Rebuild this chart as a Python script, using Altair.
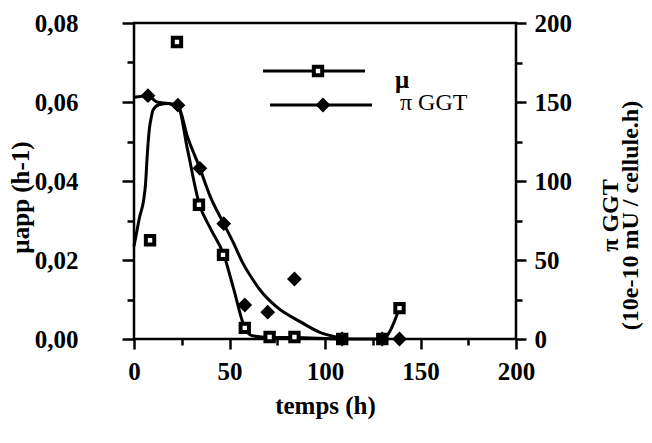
import altair as alt
import pandas as pd

FONT = "Liberation Serif"

# --- data ---
# μ measurements (hollow squares, left axis)
MU_T = [8.4, 22.5, 34, 46.6, 58, 71, 84, 109, 130, 139]
MU_V = [0.025, 0.0752, 0.034, 0.0213, 0.0028, 0.0005, 0.0005, 0.0, 0.0, 0.0078]

# π GGT measurements (diamonds, right axis)
GGT_T = [7.3, 23, 34.5, 47, 58, 70, 84, 109, 130, 139]
GGT_V = [154, 148, 108, 73, 21.5, 17, 38, 0, 0, 0]

# μ curve (thin line)
MU_CURVE_T = [0, 1, 3, 5, 6, 7, 8, 9, 10, 13, 18, 23, 28, 34, 40, 47, 52, 58, 62, 71, 84, 109, 130, 139]
MU_CURVE_V = [0.0235, 0.026, 0.031, 0.035, 0.039, 0.047, 0.053, 0.056, 0.058, 0.0593, 0.0596, 0.059,
              0.048, 0.0345, 0.028, 0.0213, 0.013, 0.0028, 0.0008, 0.0004, 0.0004, 0.0, 0.0, 0.0078]

# π GGT curve
GGT_CURVE_T = [0, 7.3, 12, 18, 23, 28, 34.5, 40, 47, 52, 57, 62, 66, 75, 87, 97, 106, 110]
GGT_CURVE_V = [153, 154, 150, 149, 147.5, 128, 108, 90, 73, 61, 48, 38, 31, 20, 11, 4.4, 1.2, 0]

X_MAJOR = [0, 50, 100, 150, 200]
X_MINOR = [25, 75, 125, 175]
YL_MAJOR = [0, 0.02, 0.04, 0.06, 0.08]
YL_MINOR = [0.01, 0.03, 0.05, 0.07]
YR_MAJOR = [0, 50, 100, 150, 200]
YR_MINOR = [25, 75, 125, 175]

LEGEND_LABELS = ["μ", "π GGT"]
X_TITLE = "temps (h)"
YL_TITLE = "µapp (h-1)"
YR_TITLE = ["π GGT", "(10e-10 mU / cellule.h)"]

mu_pts = pd.DataFrame({"t": MU_T, "v": MU_V})
ggt_pts = pd.DataFrame({"t": GGT_T, "v": GGT_V})
mu_curve = pd.DataFrame({"t": MU_CURVE_T, "v": MU_CURVE_V})
ggt_curve = pd.DataFrame({"t": GGT_CURVE_T, "v": GGT_CURVE_V})
one = pd.DataFrame({"k": [0]})

xs = alt.Scale(domain=[0, 200], nice=False)
yls = alt.Scale(domain=[0, 0.08], nice=False)
yrs = alt.Scale(domain=[0, 200], nice=False)

x_major_axis = alt.Axis(orient="bottom", values=X_MAJOR, tickSize=10, labelPadding=10,
                        labelFlush=False, labelOverlap=False, title=X_TITLE,
                        titleY=66, titleBaseline="middle", titleAlign="center")
yl_major_axis = alt.Axis(orient="left", values=YL_MAJOR, tickSize=12, labelPadding=44,
                         labelExpr="replace(format(datum.value, '.2f'), '.', ',')",
                         labelOverlap=False, title=YL_TITLE, titleAngle=270,
                         titleX=-114, titleY=174, titleAlign="center", titleBaseline="middle")
yr_major_axis = alt.Axis(orient="right", values=YR_MAJOR, tickSize=10, labelPadding=8,
                         labelOverlap=False, title=YR_TITLE, titleAngle=270,
                         titleX=94, titleY=192, titleAlign="center", titleBaseline="middle",
                         titleLineHeight=20, titleFontSize=24)

mu_line = alt.Chart(mu_curve).mark_line(color="black", strokeWidth=3, interpolate="monotone").encode(
    x=alt.X("t:Q", scale=xs, axis=x_major_axis),
    y=alt.Y("v:Q", scale=yls, axis=yl_major_axis),
)
ggt_line = alt.Chart(ggt_curve).mark_line(color="black", strokeWidth=3, interpolate="monotone").encode(
    x=alt.X("t:Q", scale=xs, axis=None),
    y=alt.Y("v:Q", scale=yrs, axis=yr_major_axis),
)
mu_sq = alt.Chart(mu_pts).mark_point(shape="square", size=70, fill="white", stroke="black",
                                     strokeWidth=4, opacity=1, fillOpacity=1).encode(
    x=alt.X("t:Q", scale=xs, axis=None),
    y=alt.Y("v:Q", scale=yls, axis=None),
)
ggt_dm = alt.Chart(ggt_pts).mark_point(shape="diamond", size=220, filled=True, color="black",
                                       opacity=1).encode(
    x=alt.X("t:Q", scale=xs, axis=None),
    y=alt.Y("v:Q", scale=yrs, axis=None),
)
# minor ticks
minor_l = alt.Chart(mu_pts).mark_point(opacity=0).encode(
    x=alt.X("t:Q", scale=xs, axis=alt.Axis(orient="bottom", values=X_MINOR, tickSize=6,
                                           labels=False, title=None)),
    y=alt.Y("v:Q", scale=yls, axis=alt.Axis(orient="left", values=YL_MINOR, tickSize=7,
                                            labels=False, title=None)),
)
minor_r = alt.Chart(ggt_pts).mark_point(opacity=0).encode(
    x=alt.X("t:Q", scale=xs, axis=None),
    y=alt.Y("v:Q", scale=yrs, axis=alt.Axis(orient="right", values=YR_MINOR, tickSize=6,
                                            labels=False, title=None)),
)

# hand-drawn legend (layout positions in pixels)
leg1_line = alt.Chart(one).mark_rule(color="black", strokeWidth=3).encode(
    x=alt.value(129), x2=alt.value(231), y=alt.value(48))
leg1_sym = alt.Chart(one).mark_point(shape="square", size=70, fill="white", stroke="black",
                                     strokeWidth=4, opacity=1, fillOpacity=1).encode(
    x=alt.value(184), y=alt.value(48))
leg1_txt = alt.Chart(one).mark_text(align="left", baseline="alphabetic", font=FONT, fontSize=25,
                                    fontWeight="bold", color="black").encode(
    x=alt.value(261), y=alt.value(65), text=alt.value(LEGEND_LABELS[0]))
leg2_line = alt.Chart(one).mark_rule(color="black", strokeWidth=3).encode(
    x=alt.value(136), x2=alt.value(238), y=alt.value(82))
leg2_sym = alt.Chart(one).mark_point(shape="diamond", size=220, filled=True, color="black",
                                     opacity=1).encode(
    x=alt.value(189), y=alt.value(82))
leg2_txt = alt.Chart(one).mark_text(align="left", baseline="alphabetic", font=FONT, fontSize=24,
                                    color="black").encode(
    x=alt.value(266), y=alt.value(87), text=alt.value(LEGEND_LABELS[1]))

chart = alt.layer(
    mu_line, ggt_line, mu_sq, ggt_dm, minor_l, minor_r,
    leg1_line, leg1_sym, leg1_txt, leg2_line, leg2_sym, leg2_txt,
).resolve_scale(y="independent").resolve_axis(x="independent", y="independent").properties(
    width=382, height=316,
    autosize=alt.AutoSizeParams(type="none"),
    padding={"left": 126, "top": 15, "right": 128, "bottom": 90},
    background="white",
).configure_axis(
    domain=False, grid=False, tickColor="black", tickWidth=2.5,
    labelColor="black", labelFont=FONT, labelFontSize=25, labelFontWeight="bold",
    titleColor="black", titleFont=FONT, titleFontSize=25, titleFontWeight="bold",
).configure_view(stroke="black", strokeWidth=2.5)

chart.save("out.html", embed_options={"renderer": "svg", "actions": False})
